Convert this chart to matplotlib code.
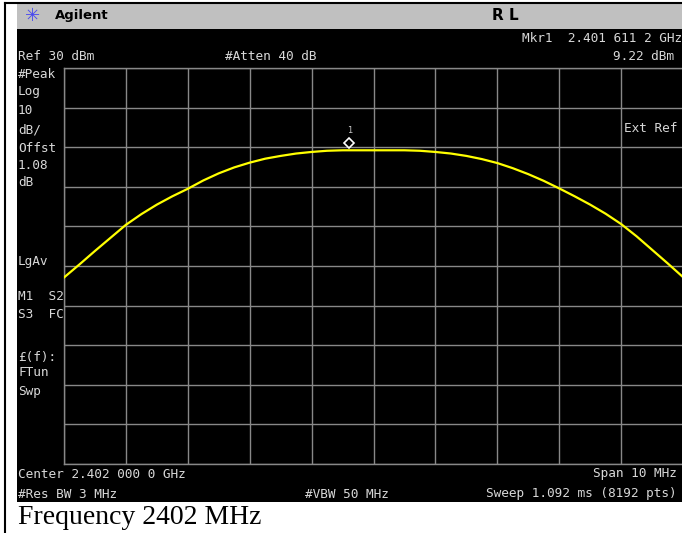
import matplotlib
matplotlib.use("Agg")
import matplotlib.pyplot as plt
import matplotlib.transforms as mtransforms
from matplotlib.patches import Rectangle
from matplotlib.lines import Line2D

# trace: offset from center (MHz) and level (dBm)
offset_mhz = [-5.0, -4.75, -4.5, -4.25, -4.0, -3.75, -3.5, -3.25, -3.0, -2.75,
              -2.5, -2.25, -2.0, -1.75, -1.5, -1.25, -1.0, -0.75, -0.5, 0.0,
              0.5, 0.75, 1.0, 1.25, 1.5, 1.75, 2.0, 2.25, 2.5, 2.75,
              3.0, 3.25, 3.5, 3.75, 4.0, 4.25, 4.5, 4.75, 5.0]
level_dbm = [-22.9, -19.6, -16.2, -12.9, -9.6, -6.9, -4.5, -2.4, -0.5, 1.6,
             3.4, 4.9, 6.1, 7.1, 7.8, 8.4, 8.8, 9.1, 9.22, 9.22,
             9.22, 9.1, 8.8, 8.4, 7.8, 7.0, 6.0, 4.7, 3.2, 1.5,
             -0.4, -2.4, -4.5, -6.8, -9.4, -12.5, -15.9, -19.3, -22.8]

ref_level = 30
db_per_div = 10
marker_offset = -0.3888
marker_level = 9.22

W, H = 682, 533
fig = plt.figure(figsize=(W / 100, H / 100), dpi=100)
fig.patch.set_facecolor("white")


def fx(x):
    return x / W


def fy(y):
    return 1 - y / H


def rect(x0, y0, x1, y1, color):
    fig.add_artist(Rectangle((fx(x0), fy(y1)), fx(x1) - fx(x0), fy(y0) - fy(y1),
                             transform=fig.transFigure, color=color, lw=0, zorder=-2))


# frame, header bar and screen
fig.add_artist(Line2D([fx(5), fx(5)], [fy(3), fy(533)], transform=fig.transFigure,
                      color="black", lw=1.5, zorder=-1))
fig.add_artist(Line2D([fx(5), fx(682)], [fy(3), fy(3)], transform=fig.transFigure,
                      color="black", lw=1.5, zorder=-1))
rect(17, 4, 682, 29, "#c0c0c0")
rect(17, 29, 682, 502, "black")

# graticule
ax = fig.add_axes([fx(64), fy(464), fx(683) - fx(64), fy(68) - fy(464)])
ax.set_facecolor("black")
ax.set_xlim(-5, 5)
ax.set_ylim(ref_level - 10 * db_per_div, ref_level)
ax.set_xticks(range(-5, 6))
ax.set_yticks(range(ref_level - 10 * db_per_div, ref_level + 1, db_per_div))
ax.grid(True, color="#888888", lw=1.0)
ax.tick_params(length=0, labelbottom=False, labelleft=False)
for s in ax.spines.values():
    s.set_color("#888888")
    s.set_linewidth(1.0)

ax.plot(offset_mhz, level_dbm, color="#ffff00", lw=1.6, zorder=3)

up = mtransforms.ScaledTranslation(0, 5 / 72, fig.dpi_scale_trans)
ax.plot([marker_offset], [marker_level], marker="D", ms=5, mfc="black", mec="white",
        mew=1.2, transform=ax.transData + up, zorder=4)
ax.annotate("1", (marker_offset, marker_level), xytext=(0, 14), textcoords="offset points",
            ha="center", va="center", color="#c8c8c8", fontsize=6)

# header texts
fig.text(fx(33), fy(16), "✳", color="#4848f0", fontsize=13, ha="center", va="center")
fig.text(fx(55), fy(16), "Agilent", color="black", fontsize=9.5, fontweight="bold", va="center")
fig.text(fx(505), fy(16), "R L", color="black", fontsize=11, fontweight="bold",
         va="center", ha="center")

mono = dict(family="DejaVu Sans Mono", color="#d8d8d8", fontsize=9.2, va="center")
fig.text(fx(18), fy(57), "Ref 30 dBm", **mono)
fig.text(fx(225), fy(57), "#Atten 40 dB", **mono)
fig.text(fx(682), fy(38), "Mkr1  2.401 611 2 GHz", ha="right", **mono)
fig.text(fx(674), fy(57), "9.22 dBm", ha="right", **mono)
fig.text(fx(677), fy(128), "Ext Ref", ha="right", **mono)

left_rows = [("#Peak", 75), ("Log", 91), ("10", 110), ("dB/", 130), ("Offst", 148),
             ("1.08", 165), ("dB", 182), ("LgAv", 262), ("M1  S2", 297), ("S3  FC", 314),
             ("£(f):", 357), ("FTun", 373), ("Swp", 392)]
for txt, y in left_rows:
    fig.text(fx(18), fy(y), txt, **mono)

fig.text(fx(18), fy(475), "Center 2.402 000 0 GHz", **mono)
fig.text(fx(18), fy(494), "#Res BW 3 MHz", **mono)
fig.text(fx(305), fy(494), "#VBW 50 MHz", **mono)
fig.text(fx(677), fy(473), "Span 10 MHz", ha="right", **mono)
fig.text(fx(677), fy(494), "Sweep 1.092 ms (8192 pts)", ha="right", **mono)

fig.text(fx(18), fy(518), "Frequency 2402 MHz", family="Liberation Serif", fontsize=20,
         color="black", va="center")

fig.savefig("out.png", dpi=100)
